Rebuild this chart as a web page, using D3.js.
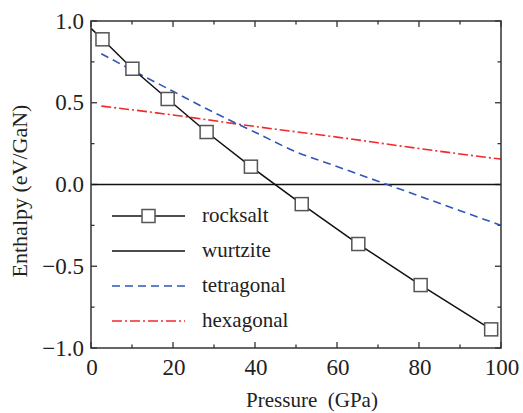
<!DOCTYPE html>
<meta charset="utf-8">
<body style="margin:0">
<svg width="523" height="413"></svg>
<script src="https://d3js.org/d3.v7.min.js"></script>
<script>

// pressure (GPa) and enthalpy (eV/GaN)
var rocksaltP = [0, 2.8, 10.1, 18.7, 28.2, 39.0, 51.4, 65.2, 80.4, 97.6];
var rocksaltH = [0.955, 0.888, 0.708, 0.523, 0.321, 0.109, -0.12, -0.364, -0.615, -0.886];
var rocksaltMarked = [false, true, true, true, true, true, true, true, true, true];

var wurtziteP = [0, 100];
var wurtziteH = [0, 0];

var tetragonalP = [2.5, 10, 20, 30, 40, 50, 60, 70, 80, 90, 100];
var tetragonalH = [0.80, 0.70, 0.57, 0.44, 0.32, 0.20, 0.11, 0.02, -0.07, -0.16, -0.25];

var hexagonalP = [2.5, 20, 40, 60, 80, 100];
var hexagonalH = [0.48, 0.425, 0.355, 0.29, 0.22, 0.155];

var seriesNames = ["rocksalt", "wurtzite", "tetragonal", "hexagonal"];
var xTicks = [0, 20, 40, 60, 80, 100];
var yTicks = [-1.0, -0.5, 0.0, 0.5, 1.0];

var svg = d3.select("svg"),
    pL = 91, pR = 501, pT = 21, pB = 348;

var x = d3.scaleLinear().domain([0, 100]).range([pL, pR]);
var y = d3.scaleLinear().domain([-1, 1]).range([pB, pT]);

function pts(px, py) { return px.map(function(p, i) { return [p, py[i]]; }); }

var line = d3.line()
    .x(function(d) { return x(d[0]); })
    .y(function(d) { return y(d[1]); });
var smooth = d3.line()
    .x(function(d) { return x(d[0]); })
    .y(function(d) { return y(d[1]); })
    .curve(d3.curveMonotoneX);

var styles = {
  rocksalt:   { color: "#111", dash: null, width: 1.5 },
  wurtzite:   { color: "#111", dash: null, width: 1.5 },
  tetragonal: { color: "#2f56b8", dash: "8,5", width: 1.6 },
  hexagonal:  { color: "#f02a2a", dash: "10,3,2,3", width: 1.6 }
};

// ticks: inward, on all four sides
var g = svg.append("g").attr("stroke", "#333").attr("stroke-width", 1.3);
d3.range(0, 101, 10).forEach(function(v) {
  var len = v % 20 === 0 ? 6 : 3.5;
  g.append("line").attr("x1", x(v)).attr("x2", x(v)).attr("y1", pB).attr("y2", pB - len);
  g.append("line").attr("x1", x(v)).attr("x2", x(v)).attr("y1", pT).attr("y2", pT + len);
});
d3.range(-1, 1.001, 0.25).forEach(function(v) {
  var len = Math.abs(v * 2 - Math.round(v * 2)) < 1e-6 ? 6 : 3.5;
  g.append("line").attr("y1", y(v)).attr("y2", y(v)).attr("x1", pL).attr("x2", pL + len);
  g.append("line").attr("y1", y(v)).attr("y2", y(v)).attr("x1", pR).attr("x2", pR - len);
});

// series
svg.append("clipPath").attr("id", "plot")
  .append("rect").attr("x", pL).attr("y", pT).attr("width", pR - pL).attr("height", pB - pT);
var plot = svg.append("g").attr("clip-path", "url(#plot)");

plot.append("path").attr("d", line(pts(wurtziteP, wurtziteH)))
    .attr("fill", "none").attr("stroke", styles.wurtzite.color).attr("stroke-width", styles.wurtzite.width);
plot.append("path").attr("d", smooth(pts(hexagonalP, hexagonalH)))
    .attr("fill", "none").attr("stroke", styles.hexagonal.color).attr("stroke-width", styles.hexagonal.width)
    .attr("stroke-dasharray", styles.hexagonal.dash);
plot.append("path").attr("d", smooth(pts(tetragonalP, tetragonalH)))
    .attr("fill", "none").attr("stroke", styles.tetragonal.color).attr("stroke-width", styles.tetragonal.width)
    .attr("stroke-dasharray", styles.tetragonal.dash);
plot.append("path").attr("d", line(pts(rocksaltP, rocksaltH)))
    .attr("fill", "none").attr("stroke", styles.rocksalt.color).attr("stroke-width", styles.rocksalt.width);

var ms = 13;
svg.selectAll(".marker")
  .data(pts(rocksaltP, rocksaltH).filter(function(d, i) { return rocksaltMarked[i]; }))
  .enter().append("rect")
    .attr("class", "marker")
    .attr("x", function(d) { return x(d[0]) - ms / 2; })
    .attr("y", function(d) { return y(d[1]) - ms / 2; })
    .attr("width", ms).attr("height", ms)
    .attr("fill", "#fff").attr("stroke", "#555").attr("stroke-width", 1.5);

// frame
svg.append("rect").attr("x", pL).attr("y", pT).attr("width", pR - pL).attr("height", pB - pT)
    .attr("fill", "none").attr("stroke", "#333").attr("stroke-width", 1.5);

// tick labels
svg.selectAll(".xt").data(xTicks).enter().append("text")
    .attr("x", function(d) { return x(d) + 1; })
    .attr("y", 375)
    .attr("text-anchor", "middle").attr("fill", "#222").attr("font-size", 23)
    .style("font-family", "Liberation Serif")
    .text(function(d) { return d; });

svg.selectAll(".yt").data(yTicks).enter().append("text")
    .attr("x", 84)
    .attr("y", function(d) { return y(d) + 7.5; })
    .attr("text-anchor", "end").attr("fill", "#222").attr("font-size", 23)
    .style("font-family", "Liberation Serif")
    .text(function(d) { return d3.format(".1f")(d); });

// axis titles
svg.append("text").attr("x", 312).attr("y", 407).attr("text-anchor", "middle").attr("fill", "#222")
    .attr("font-size", 21).style("font-family", "Liberation Serif")
    .text("Pressure\u00a0 (GPa)");
svg.append("text").attr("transform", "translate(27,191) rotate(-90)").attr("text-anchor", "middle")
    .attr("fill", "#222").attr("font-size", 22).style("font-family", "Liberation Serif")
    .text("Enthalpy (eV/GaN)");

// legend
var legY = [216, 251, 286, 321];
var leg = svg.selectAll(".leg").data(seriesNames).enter().append("g")
    .attr("transform", function(d, i) { return "translate(0," + legY[i] + ")"; });
leg.append("line").attr("x1", 112).attr("x2", 185)
    .attr("stroke", function(d) { return styles[d].color; })
    .attr("stroke-width", function(d) { return styles[d].width; })
    .attr("stroke-dasharray", function(d) { return styles[d].dash; });
leg.filter(function(d) { return d === "rocksalt"; }).append("rect")
    .attr("x", 148.5 - ms / 2).attr("y", -ms / 2).attr("width", ms).attr("height", ms)
    .attr("fill", "#fff").attr("stroke", "#555").attr("stroke-width", 1.5);
leg.append("text").attr("x", 202).attr("y", 6).attr("fill", "#222")
    .attr("font-size", 21).style("font-family", "Liberation Serif")
    .text(function(d) { return d; });

</script>
